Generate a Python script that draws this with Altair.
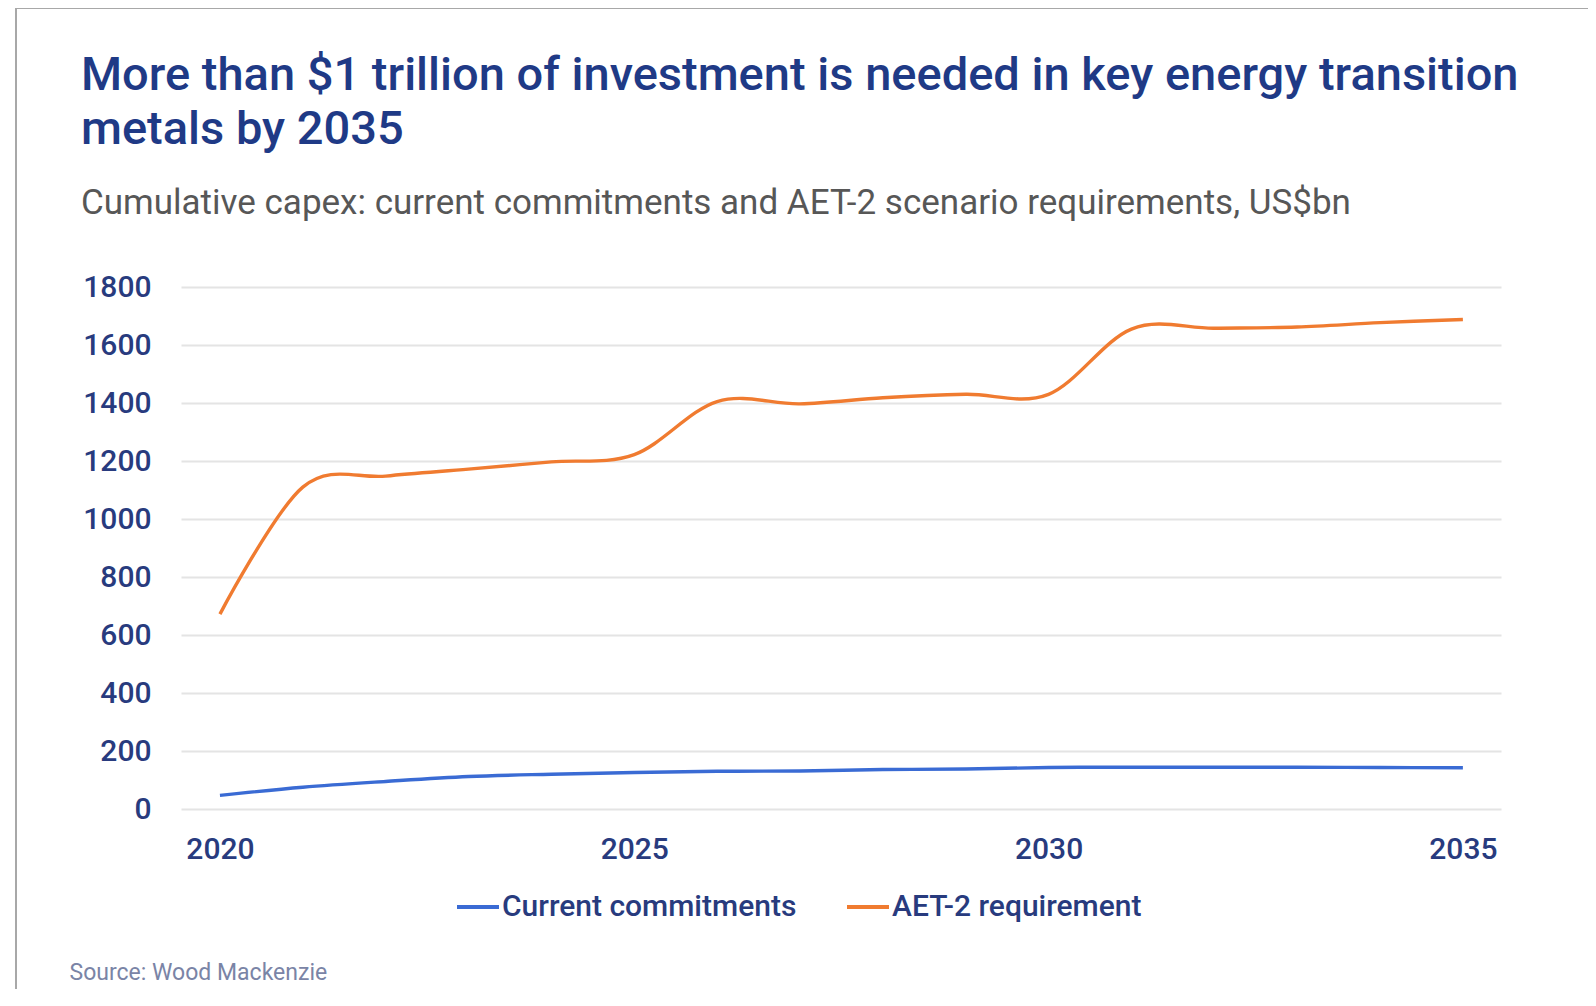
import altair as alt
import pandas as pd

years = list(range(2020, 2036))
current = [47, 75, 95, 112, 120, 126, 130, 131, 136, 138, 143, 144, 144, 144, 143, 142]
aet2 = [672, 1110, 1148, 1172, 1197, 1222, 1405, 1397, 1418, 1430, 1430, 1655, 1658, 1662, 1677, 1688]
series = ["Current commitments", "AET-2 requirement"]
colors = ["#3a6bd4", "#f07b30"]
x_ticks = [2020, 2025, 2030, 2035]
y_ticks = list(range(0, 1801, 200))

navy = "#1f3a86"
label_navy = "#283b7e"

df = pd.DataFrame({
    "year": years * 2,
    "value": current + aet2,
    "series": [series[0]] * len(years) + [series[1]] * len(years),
})

lines = alt.Chart(df).mark_line(interpolate="cardinal", strokeWidth=3.4).encode(
    x=alt.X(
        "year:Q",
        scale=alt.Scale(domain=[2019.53, 2035.46], nice=False, zero=False),
        axis=alt.Axis(
            values=x_ticks, format="d",
            title="Source: Wood Mackenzie",
            titleX=-112, titleY=163, titleAlign="left", titleBaseline="middle",
            titleFontSize=23, titleFontWeight="normal", titleColor="#7a84a6", titleFont="Roboto",
            grid=False, domain=False, ticks=False,
            labelPadding=25, labelFontSize=30, labelColor=label_navy, labelFontWeight=500,
            labelFont="Roboto",
        ),
    ),
    y=alt.Y(
        "value:Q",
        scale=alt.Scale(domain=[0, 1800], nice=False),
        axis=alt.Axis(
            values=y_ticks, format="d", title=None, domain=False, ticks=False,
            labelPadding=30, labelFontSize=30, labelColor=label_navy, labelFontWeight=500,
            labelFont="Roboto", gridColor="#e4e4e4", gridWidth=2,
        ),
    ),
    color=alt.Color(
        "series:N",
        scale=alt.Scale(domain=series, range=colors),
        legend=alt.Legend(
            title=None, orient="none", legendX=274, legendY=597, direction="horizontal",
            symbolType="stroke", symbolSize=1764, symbolStrokeWidth=4,
            labelFontSize=30, labelColor=label_navy, labelFontWeight=500, labelFont="Roboto",
            labelLimit=500, columnPadding=42, labelOffset=1, padding=0,
        ),
    ),
)

frame_src = pd.DataFrame({"k": [0]})
frame_top = alt.Chart(frame_src).mark_rule(color="#a8a8a8", strokeWidth=2).encode(
    x=alt.value(-165), x2=alt.value(1410), y=alt.value(-279)
)
frame_left = alt.Chart(frame_src).mark_rule(color="#a8a8a8", strokeWidth=2).encode(
    x=alt.value(-165), y=alt.value(-279), y2=alt.value(705)
)

chart = alt.layer(frame_top, frame_left, lines).properties(
    width=1320,
    height=522,
    title=alt.Title(
        text=["More than $1 trillion of investment is needed in key energy transition",
              "metals by 2035"],
        subtitle="Cumulative capex: current commitments and AET-2 scenario requirements, US$bn",
        anchor="start", frame="group", dx=-100,
        font="Roboto", fontSize=47, fontWeight=500, color=navy, lineHeight=54,
        subtitleFont="Roboto", subtitleFontSize=35, subtitleColor="#575757",
        subtitlePadding=32, offset=-215,
    ),
    padding={"left": 173, "top": 279, "right": 87, "bottom": 180},
    autosize=alt.AutoSizeParams(type="none"),
).configure(font="Roboto", view=alt.ViewConfig(stroke=None))

chart.save("out.html", embed_options={"renderer": "svg", "actions": False})
